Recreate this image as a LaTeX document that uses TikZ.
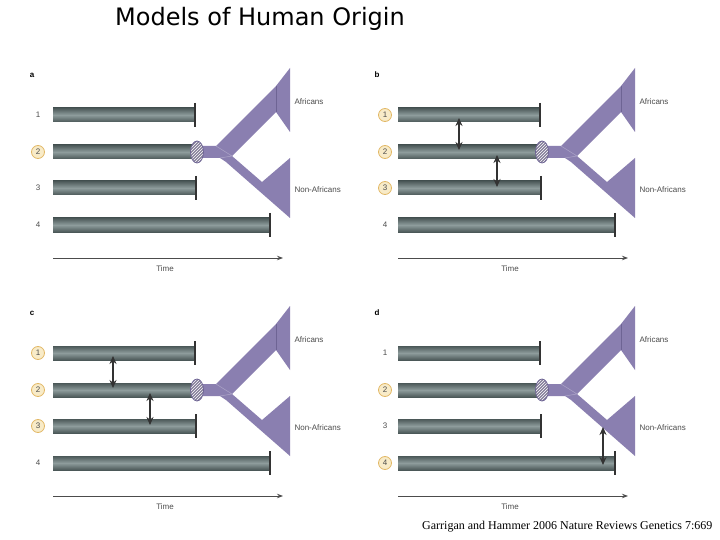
\documentclass[tikz,border=0pt]{standalone}
\usepackage{fontspec}
\setmainfont{Liberation Serif}
\newfontfamily\sansf{Liberation Sans}
\newfontfamily\titlef{DejaVu Sans}
\usetikzlibrary{arrows.meta,patterns}
\definecolor{barmid}{HTML}{8E9C9C}
\definecolor{bardark}{HTML}{4B5858}
\definecolor{purp}{HTML}{8A7FB0}
\definecolor{purpd}{HTML}{6E6494}
\definecolor{cream}{HTML}{F8EBC8}
\definecolor{ring}{HTML}{E2B866}
\tikzset{
 bar/.style={top color=bardark,bottom color=bardark,middle color=barmid,draw=none},
 endcap/.style={line width=1.3pt,draw=black!80},
 lbl/.style={font=\sansf\fontsize{8}{9}\selectfont,text=black!70},
 num/.style={font=\sansf\fontsize{8}{9}\selectfont,text=black!70,inner sep=0pt},
 cnum/.style={num,circle,minimum size=13pt,fill=cream,draw=ring,line width=0.8pt},
 dbl/.style={{Stealth[length=8pt,width=7pt]}-{Stealth[length=8pt,width=7pt]},line width=1.5pt,draw=black!80},
}
\newcommand\panelpic[5]{%
\begin{scope}[shift={(#1,#2)}]
 \node[font=\sansf\bfseries\fontsize{8}{9}\selectfont] (lab#3) at (32,75) {#3};
 \fill[bar] (53,108) rectangle (195,122);
 \fill[bar] (53,145) rectangle (195,159);
 \fill[bar] (53,181) rectangle (196,195);
 \fill[bar] (53,218) rectangle (270,232);
 \draw[endcap] (195,103)--(195,127); \draw[endcap] (196,176)--(196,200); \draw[endcap] (270,213)--(270,237);
 \fill[purp] (203,146) -- (216,146) -- (268,94) -- (276,86) -- (290,68) -- (290,132) -- (276,112) -- (232,156) -- (262,182) -- (290,158) -- (290,218) -- (258,190) -- (226,162) -- (220,158) -- (203,158) -- cycle;
 \draw[purpd,line width=0.5pt] (276,86)--(276,112);
 \draw[purp!70!white,line width=0.5pt] (216,146)--(232,156)--(220,158);
 \fill[purp!55!gray] (197,152) ellipse (6.5 and 11);
 \fill[pattern=north east lines,pattern color=white] (197,152) ellipse (6.5 and 11);
 \draw[purpd,line width=0.8pt] (197,152) ellipse (6.5 and 11);
 \node[lbl,anchor=west] (af#3) at (291,102) {Africans};
 \node[lbl,anchor=west] (na#3) at (291,190) {Non-Africans};
 #4
 \coordinate (ts#3) at (53,258); \coordinate (te#3) at (283,258);
 \draw[-{Stealth[length=6pt]},line width=1pt,black!70] (ts#3)--(te#3);
 \node[lbl] (time#3) at (165,269) {Time};
 #5
\end{scope}}
\begin{document}
\begin{tikzpicture}[x=1pt,y=-1pt]
\fill[white] (0,0) rectangle (720,540);
\node[font=\titlef\fontsize{24}{28}\selectfont] (title) at (260,19) {Models of Human Origin};
\panelpic{0}{0}{a}{\node[num] at (38,115){1}; \node[cnum] at (38,152){2}; \node[num] at (38,188){3}; \node[num] at (38,225){4};}{}
\panelpic{345}{0}{b}{\node[cnum] at (40,115){1}; \node[cnum] at (40,152){2}; \node[cnum] at (40,188){3}; \node[num] at (40,225){4};}{\draw[dbl] (114,118)--(114,150); \draw[dbl] (152,155)--(152,187);}
\panelpic{0}{238}{c}{\node[cnum] at (38,115){1}; \node[cnum] at (38,152){2}; \node[cnum] at (38,188){3}; \node[num] at (38,225){4};}{\draw[dbl] (113,118)--(113,150); \draw[dbl] (150,155)--(150,187);}
\panelpic{345}{238}{d}{\node[num] at (40,115){1}; \node[cnum] at (40,152){2}; \node[num] at (40,188){3}; \node[cnum] at (40,225){4};}{\draw[dbl] (258,189)--(258,227);}
\node[font=\fontsize{12}{14}\selectfont,anchor=east] (cite) at (716,527) {Garrigan and Hammer 2006 Nature Reviews Genetics 7:669};
\end{tikzpicture}
\end{document}
